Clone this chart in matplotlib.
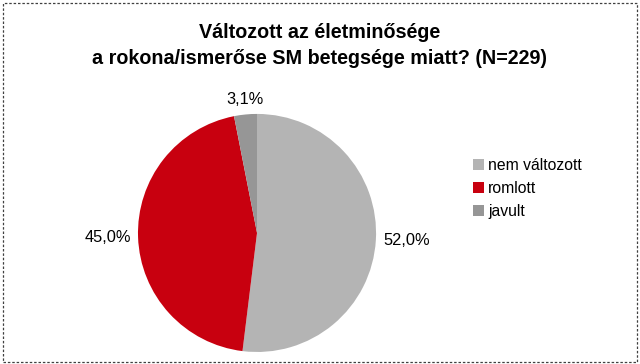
import numpy as np
import matplotlib.pyplot as plt
from matplotlib.patches import Rectangle

plt.rcParams['font.family'] = ['Liberation Sans', 'DejaVu Sans']

# Data
categories = ['nem változott', 'romlott', 'javult']
values = [52.0, 45.0, 3.1]
colors = ['#b4b4b4', '#c8000f', '#969696']
title = 'Változott az életminősége\na rokona/ismerőse SM betegsége miatt? (N=229)'

fig = plt.figure(figsize=(6.4, 3.64), dpi=100)

# dashed frame around the whole chart
fig.patches.append(Rectangle((0.005, 0.006), 0.99, 0.985, transform=fig.transFigure,
                             fill=False, edgecolor='#404040', linestyle=(0, (2, 1.5)),
                             linewidth=0.9))

fig.text(0.5, 0.937, title, ha='center', va='top', fontsize=14.2,
         fontweight='bold', linespacing=1.45)

ax = fig.add_axes([0.2156, 0.033, 0.372, 0.654])
labels = [f'{v:.1f}'.replace('.', ',') + '%' for v in values]
wedges, texts = ax.pie(values, colors=colors, startangle=90, counterclock=False,
                       labels=labels, labeldistance=1.06,
                       textprops={'fontsize': 11.8})
for w, t in zip(wedges, texts):
    mid = np.deg2rad((w.theta1 + w.theta2) / 2)
    if abs(np.cos(mid)) < 0.3:
        t.set_ha('center')
        t.set_va('bottom' if np.sin(mid) > 0 else 'top')
ax.set_aspect('auto')
ax.set_xlim(-1, 1)
ax.set_ylim(-1, 1)

leg = fig.legend(wedges, categories, loc='upper left', bbox_to_anchor=(0.727, 0.588),
                 frameon=False, fontsize=11.3, handlelength=0.7, handleheight=0.7,
                 handletextpad=0.25, labelspacing=0.5, borderpad=0)

fig.savefig('out.png', dpi=100)
